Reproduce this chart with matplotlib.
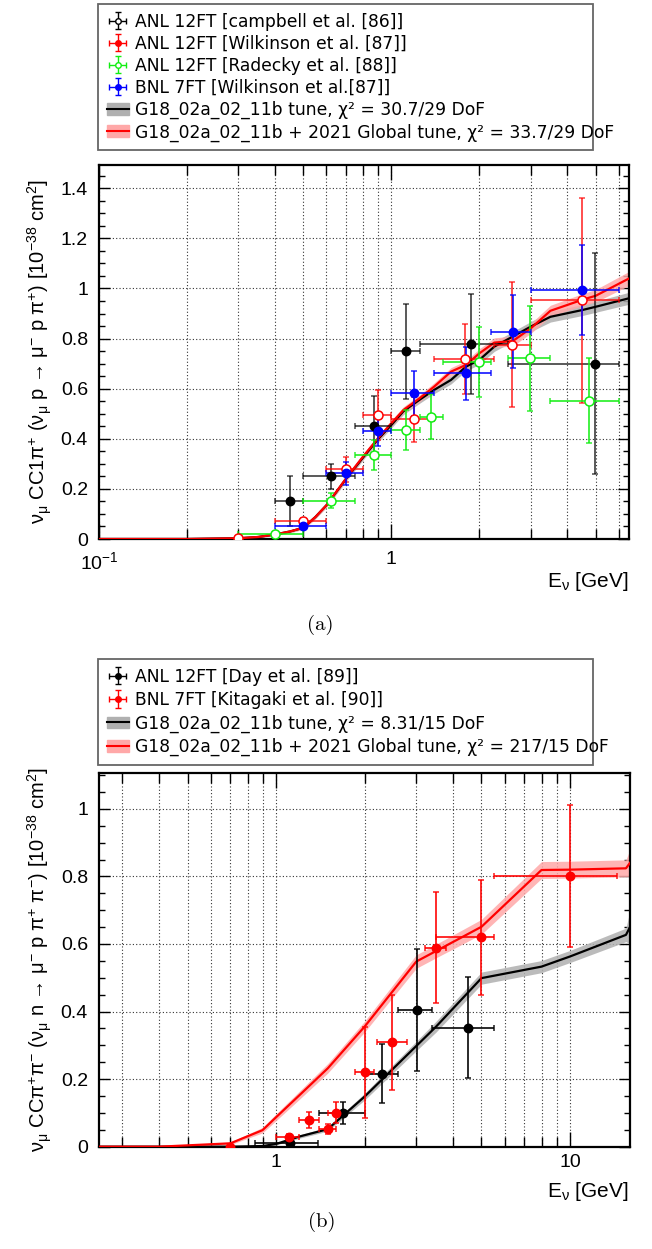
import numpy as np
import matplotlib.pyplot as plt
from matplotlib.lines import Line2D
from matplotlib.patches import Patch
from matplotlib.colors import to_rgba
from matplotlib.ticker import FixedLocator, MultipleLocator, FuncFormatter, NullFormatter

plt.rcParams['font.family'] = ['Liberation Sans', 'DejaVu Sans']
plt.rcParams['mathtext.fontset'] = 'custom'
plt.rcParams['mathtext.rm'] = 'Liberation Sans'
plt.rcParams['mathtext.it'] = 'Liberation Sans:italic'
plt.rcParams['mathtext.bf'] = 'Liberation Sans:bold'

# ---------------- panel (a): numu CC1pi+ ----------------
curve_a_E = [0.1, 0.2, 0.3, 0.35, 0.4, 0.45, 0.5, 0.55, 0.6, 0.7, 0.8, 0.9, 1.0, 1.1,
             1.25, 1.4, 1.6, 1.8, 2.0, 2.25, 2.6, 3.0, 3.5, 4.5, 5.0, 6.5]
g18_a = [0, 0, 0.003, 0.008, 0.018, 0.03, 0.045, 0.088, 0.135, 0.24, 0.325, 0.398, 0.455,
         0.51, 0.556, 0.595, 0.635, 0.688, 0.715, 0.768, 0.808, 0.848, 0.887, 0.914, 0.927, 0.961]
g18_a_band = [0, 0, 0.002, 0.003, 0.004, 0.005, 0.006, 0.007, 0.008, 0.01, 0.01, 0.012, 0.012,
              0.013, 0.014, 0.015, 0.016, 0.017, 0.018, 0.019, 0.02, 0.02, 0.021, 0.022, 0.022, 0.024]
glob_a = [0, 0, 0.003, 0.008, 0.018, 0.03, 0.045, 0.088, 0.135, 0.242, 0.329, 0.402, 0.462,
          0.515, 0.562, 0.608, 0.668, 0.695, 0.741, 0.784, 0.79, 0.841, 0.911, 0.955, 0.971, 1.04]
glob_a_band = [0, 0, 0.002, 0.003, 0.004, 0.005, 0.006, 0.007, 0.008, 0.01, 0.01, 0.012, 0.012,
               0.013, 0.014, 0.015, 0.016, 0.017, 0.018, 0.019, 0.02, 0.02, 0.022, 0.024, 0.025, 0.028]

campbell_E = [0.45, 0.62, 0.87, 1.12, 1.87, 4.98]
campbell_lo = [0.4, 0.5, 0.75, 1.0, 1.25, 2.5]
campbell_hi = [0.5, 0.75, 1.0, 1.25, 2.5, 6.0]
campbell_xs = [0.15, 0.25, 0.45, 0.75, 0.78, 0.70]
campbell_err = [0.10, 0.05, 0.12, 0.19, 0.20, 0.44]

wilk_anl_E = [0.3, 0.5, 0.7, 0.9, 1.2, 1.78, 2.59, 4.5]
wilk_anl_lo = [0.3, 0.4, 0.6, 0.8, 1.0, 1.4, 2.25, 3.0]
wilk_anl_hi = [0.3, 0.6, 0.8, 1.0, 1.4, 2.25, 3.0, 6.0]
wilk_anl_xs = [0.003, 0.072, 0.278, 0.495, 0.478, 0.717, 0.775, 0.953]
wilk_anl_err = [0.0, 0.01, 0.05, 0.10, 0.09, 0.14, 0.25, 0.41]

radecky_E = [0.4, 0.62, 0.875, 1.125, 1.37, 2.0, 2.99, 4.74]
radecky_lo = [0.3, 0.5, 0.75, 1.0, 1.25, 1.5, 2.5, 3.5]
radecky_hi = [0.5, 0.75, 1.0, 1.25, 1.5, 2.2, 3.5, 6.0]
radecky_xs = [0.019, 0.153, 0.334, 0.435, 0.488, 0.708, 0.721, 0.552]
radecky_err = [0.01, 0.03, 0.06, 0.08, 0.09, 0.14, 0.21, 0.17]

wilk_bnl_E = [0.5, 0.70, 0.9, 1.2, 1.8, 2.6, 4.5]
wilk_bnl_lo = [0.4, 0.6, 0.8, 1.0, 1.4, 2.2, 3.0]
wilk_bnl_hi = [0.6, 0.8, 1.0, 1.4, 2.2, 3.0, 6.0]
wilk_bnl_xs = [0.053, 0.262, 0.431, 0.581, 0.661, 0.828, 0.994]
wilk_bnl_err = [0.01, 0.045, 0.06, 0.09, 0.105, 0.145, 0.18]

# ---------------- panel (b): numu CC pi+ pi- ----------------
curve_b_E = [0.25, 0.4, 0.7, 0.9, 1.0, 1.2, 1.5, 2.0, 3.0, 3.5, 5.0, 8.0, 10.0, 15.5, 16.0]
g18_b = [0, 0, 0, 0.002, 0.008, 0.03, 0.052, 0.148, 0.298, 0.355, 0.499, 0.533, 0.563, 0.627, 0.65]
g18_b_band = [0, 0, 0, 0.002, 0.003, 0.005, 0.006, 0.01, 0.014, 0.016, 0.018, 0.018, 0.018, 0.02, 0.05]
glob_b = [0, 0, 0.01, 0.049, 0.087, 0.152, 0.232, 0.355, 0.548, 0.579, 0.651, 0.819, 0.82, 0.824, 0.84]
glob_b_band = [0, 0, 0.004, 0.008, 0.01, 0.012, 0.014, 0.016, 0.02, 0.02, 0.022, 0.025, 0.025, 0.025, 0.04]

day_E = [1.12, 1.69, 2.3, 3.01, 4.49]
day_lo = [0.85, 1.4, 2.0, 2.6, 3.4]
day_hi = [1.39, 2.0, 2.6, 3.4, 5.5]
day_xs = [0.012, 0.099, 0.216, 0.405, 0.352]
day_err = [0.005, 0.033, 0.088, 0.18, 0.15]

kita_E = [0.7, 1.11, 1.3, 1.5, 1.6, 2.0, 2.49, 3.5, 5.0, 10.0]
kita_lo = [0.7, 1.0, 1.2, 1.4, 1.5, 1.85, 2.2, 3.2, 3.5, 5.5]
kita_hi = [0.7, 1.2, 1.4, 1.6, 1.7, 2.15, 2.8, 3.8, 5.5, 14.5]
kita_xs = [0.0, 0.028, 0.079, 0.052, 0.101, 0.220, 0.309, 0.589, 0.620, 0.80]
kita_err = [0.0, 0.01, 0.025, 0.015, 0.03, 0.135, 0.14, 0.165, 0.17, 0.21]

RED = '#ff0000'
GREEN = '#11ee11'
BLUE = '#0000ff'
BLACK = '#000000'
GRAY_BAND = '#b0b0b0'
RED_BAND = '#ffa8a8'


def points(ax, E, lo, hi, y, err, color, filled, alpha=0.85):
    E = np.array(E)
    xerr = [E - np.array(lo), np.array(hi) - E]
    ax.errorbar(E, y, xerr=xerr, yerr=err, fmt='o', color=color,
                mfc=color if filled else 'white', mec=color,
                ms=6 if filled else 6.5, mew=1.1,
                ecolor=to_rgba(color, alpha), elinewidth=1.3,
                capsize=2.5, capthick=1.3, zorder=4)


def curve(ax, E, y, band, lcolor, bcolor):
    y = np.array(y)
    band = np.array(band)
    ax.fill_between(E, y - band, y + band, color=bcolor, alpha=0.85, lw=0, zorder=2)
    ax.plot(E, y, color=lcolor, lw=1.6, zorder=3)


def legend_point(ax, color, filled, ms):
    return ax.errorbar([np.nan], [np.nan], xerr=[1], yerr=[1], fmt='o', color=color,
                       mfc=color if filled else 'white', mec=color, ms=ms, mew=1,
                       ecolor=color, elinewidth=1, capsize=2)


def style_axes(ax):
    for s in ax.spines.values():
        s.set_linewidth(1.6)
    ax.tick_params(which='both', direction='in', top=True, right=True, labelsize=14)
    ax.tick_params(axis='x', which='major', length=11, width=1)
    ax.tick_params(axis='x', which='minor', length=7, width=1)
    ax.tick_params(axis='y', which='major', length=8, width=1, pad=8)
    ax.tick_params(axis='y', which='minor', length=4, width=1)
    ax.xaxis.set_minor_formatter(NullFormatter())
    ax.yaxis.set_major_formatter(FuncFormatter(lambda v, p: '%g' % v))
    ax.yaxis.set_minor_locator(MultipleLocator(0.05))
    ax.grid(True, which='major', axis='both', ls=(0, (1, 2)), color='#333333', lw=0.8)
    ax.grid(True, which='minor', axis='x', ls=(0, (1, 2)), color='#333333', lw=0.8)
    ax.set_axisbelow(True)


def make_legend(ax, handles, labels, top, bottom, spacing):
    leg = ax.legend(handles, labels, loc='upper left', mode='expand',
                    bbox_to_anchor=(98 / 652, 1 - bottom / 1249, 495 / 652, (bottom - top) / 1249),
                    bbox_transform=fig.transFigure, prop={'family': 'DejaVu Sans', 'size': 12.3},
                    fancybox=False, edgecolor='#666666', framealpha=1, borderpad=0.5,
                    labelspacing=spacing, handlelength=1.3, handletextpad=0.35, borderaxespad=0)
    leg.get_frame().set_linewidth(1.3)
    return leg


fig = plt.figure(figsize=(6.52, 12.49), dpi=100)

# ---------------- (a) ----------------
ax1 = fig.add_axes([99 / 652, 1 - 539 / 1249, 530 / 652, 374 / 1249])
curve(ax1, curve_a_E, g18_a, g18_a_band, BLACK, GRAY_BAND)
curve(ax1, curve_a_E, glob_a, glob_a_band, RED, RED_BAND)
points(ax1, campbell_E, campbell_lo, campbell_hi, campbell_xs, campbell_err, BLACK, True, 0.7)
points(ax1, wilk_anl_E, wilk_anl_lo, wilk_anl_hi, wilk_anl_xs, wilk_anl_err, RED, False, 0.75)
points(ax1, radecky_E, radecky_lo, radecky_hi, radecky_xs, radecky_err, GREEN, False)
points(ax1, wilk_bnl_E, wilk_bnl_lo, wilk_bnl_hi, wilk_bnl_xs, wilk_bnl_err, BLUE, True)
ax1.set_xscale('log')
ax1.set_xlim(0.1, 6.5)
ax1.set_ylim(0, 1.493)
style_axes(ax1)
ax1.xaxis.set_major_locator(FixedLocator([0.1, 1]))
ax1.xaxis.set_major_formatter(FuncFormatter(lambda v, p: r'$\mathregular{10^{-1}}$' if v < 0.5 else '1'))
ax1.tick_params(axis='x', which='major', pad=9)
ax1.set_ylabel(r'$\mathregular{ν_{μ}\ CC1π^{+}\ (ν_{μ}\ p\ →\ μ^{-}\ p\ π^{+})\ [10^{-38}\ cm^{2}]}$',
               fontsize=14.5, labelpad=5)

h1 = [legend_point(ax1, BLACK, False, 4), legend_point(ax1, RED, True, 4),
      legend_point(ax1, GREEN, False, 4), legend_point(ax1, BLUE, True, 4),
      (Patch(color=GRAY_BAND), Line2D([], [], color=BLACK, lw=1.5)),
      (Patch(color=RED_BAND), Line2D([], [], color=RED, lw=1.5))]
l1 = ['ANL 12FT [campbell et al. [86]]', 'ANL 12FT [Wilkinson et al. [87]]',
      'ANL 12FT [Radecky et al. [88]]', 'BNL 7FT [Wilkinson et al.[87]]',
      'G18_02a_02_11b tune, χ² = 30.7/29 DoF',
      'G18_02a_02_11b + 2021 Global tune, χ² = 33.7/29 DoF']
make_legend(ax1, h1, l1, 4, 150, 0.24)

fig.text(629 / 652, 1 - 582 / 1249, r'$\mathregular{E_{ν}}$ [GeV]', ha='right', va='center', fontsize=15)
fig.text(320 / 652, 1 - 625 / 1249, '(a)', ha='center', va='center', fontsize=15, family='cmr10')

# ---------------- (b) ----------------
ax2 = fig.add_axes([99 / 652, 1 - 1146.7 / 1249, 531 / 652, 374 / 1249])
curve(ax2, curve_b_E, g18_b, g18_b_band, BLACK, GRAY_BAND)
curve(ax2, curve_b_E, glob_b, glob_b_band, RED, RED_BAND)
points(ax2, day_E, day_lo, day_hi, day_xs, day_err, BLACK, True, 0.9)
points(ax2, kita_E, kita_lo, kita_hi, kita_xs, kita_err, RED, True, 0.9)
ax2.set_xscale('log')
ax2.set_xlim(0.25, 16)
ax2.set_ylim(0, 1.107)
style_axes(ax2)
ax2.xaxis.set_major_locator(FixedLocator([1, 10]))
ax2.xaxis.set_major_formatter(FuncFormatter(lambda v, p: '%g' % v))
ax2.tick_params(axis='x', which='major', pad=5)
ax2.set_ylabel(r'$\mathregular{ν_{μ}\ CCπ^{+}π^{-}\ (ν_{μ}\ n\ →\ μ^{-}\ p\ π^{+}\ π^{-})\ [10^{-38}\ cm^{2}]}$',
               fontsize=14.5, labelpad=5)

h2 = [legend_point(ax2, BLACK, True, 4), legend_point(ax2, RED, True, 4),
      (Patch(color=GRAY_BAND), Line2D([], [], color=BLACK, lw=1.5)),
      (Patch(color=RED_BAND), Line2D([], [], color=RED, lw=1.5))]
l2 = ['ANL 12FT [Day et al. [89]]', 'BNL 7FT [Kitagaki et al. [90]]',
      'G18_02a_02_11b tune, χ² = 8.31/15 DoF',
      'G18_02a_02_11b + 2021 Global tune, χ² = 217/15 DoF']
make_legend(ax2, h2, l2, 659, 763, 0.32)

fig.text(629 / 652, 1 - 1191.7 / 1249, r'$\mathregular{E_{ν}}$ [GeV]', ha='right', va='center', fontsize=15)
fig.text(322 / 652, 1 - 1222 / 1249, '(b)', ha='center', va='center', fontsize=15, family='cmr10')

fig.savefig('out.png', dpi=100)
